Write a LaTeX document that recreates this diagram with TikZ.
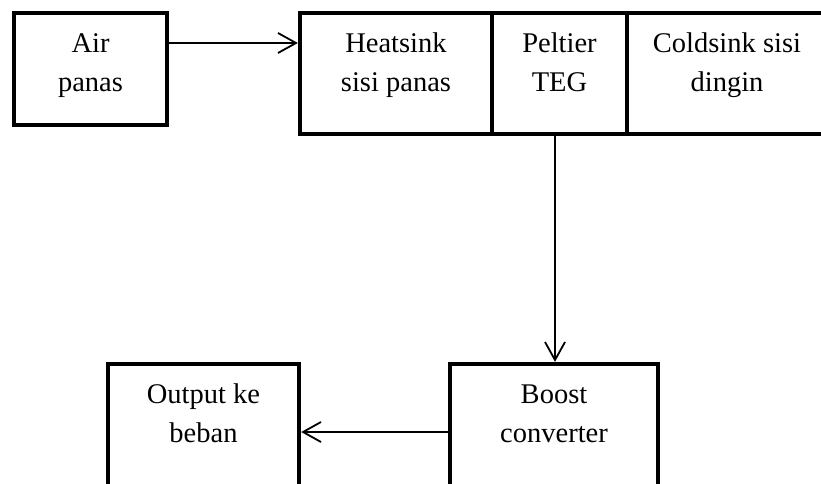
\documentclass[tikz,border=0pt]{standalone}
\usepackage{fontspec}
\setmainfont{Liberation Serif}
\usetikzlibrary{arrows.meta}
\begin{document}
\begin{tikzpicture}[x=1pt,y=-1pt,
  box/.style 2 args={draw, line width=4.3pt, minimum width=#1, minimum height=#2, inner sep=0pt},
  lbl/.style={anchor=north, inner sep=0pt, align=center, font=\fontsize{28.5}{38.5}\selectfont},
  arr/.style={line width=1.8pt, -{Straight Barb[length=18pt,width=20pt,line width=1.8pt]}}]
\useasboundingbox (0,0) rectangle (821,484);
\fill[white] (0,0) rectangle (821,484);
\clip (0,0) rectangle (821,484);
% boxes
\node[box={153pt}{112pt}] (air) at (90.5,69) {};
\node[box={192pt}{121pt}] (heat) at (396,73.5) {};
\node[box={135pt}{121pt}] (pelt) at (559.5,73.5) {};
\node[box={200pt}{121pt}] (cold) at (727,73.5) {};
\node[box={191pt}{150pt}] (out) at (203.5,439) {};
\node[box={208pt}{150pt}] (boost) at (554,439) {};
% labels
\node[lbl] (airT) at (90.5,25.4) {\strut Air\\\strut panas};
\node[lbl] (heatT) at (396,25.4) {\strut Heatsink\\\strut sisi panas};
\node[lbl] (peltT) at (559.5,25.4) {\strut Peltier\\\strut TEG};
\node[lbl] (coldT) at (727,25.4) {\strut Coldsink sisi\\\strut dingin};
\node[lbl] (outT) at (203.5,376.4) {\strut Output ke\\\strut beban};
\node[lbl] (boostT) at (554,376.4) {\strut Boost\\\strut converter};
% connectors
\draw[arr] (air.east |- 0,43) -- (heat.west |- 0,43);
\draw[arr] (pelt.south -| 555,0) -- (boost.north -| 555,0);
\draw[arr] (boost.west |- 0,432) -- (out.east |- 0,432);
\end{tikzpicture}
\end{document}
